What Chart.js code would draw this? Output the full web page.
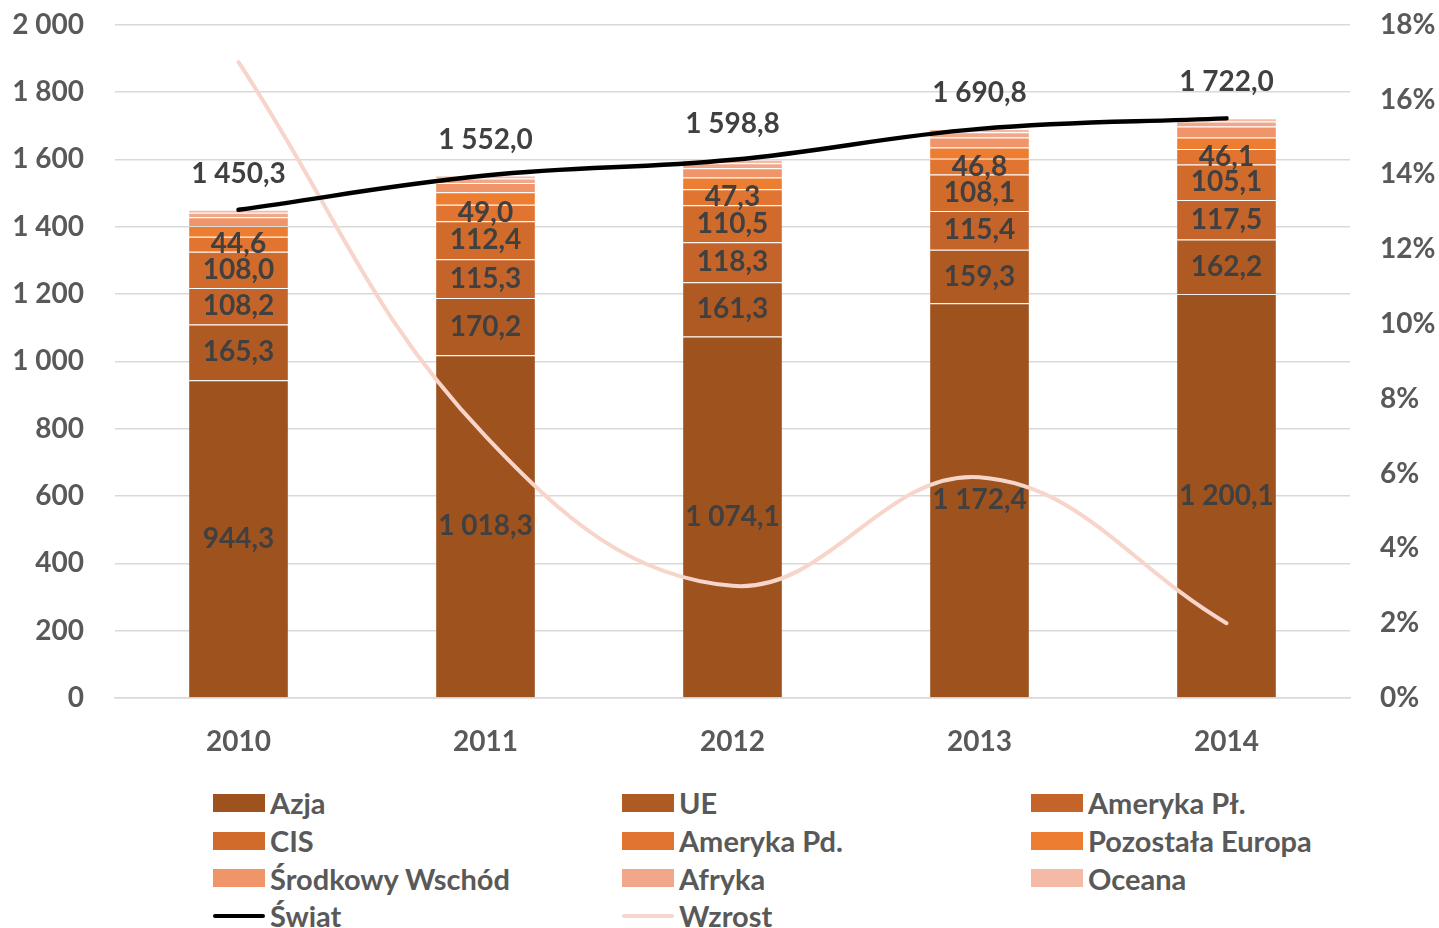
<!DOCTYPE html>
<html lang="pl">
<head>
<meta charset="utf-8">
<script src="https://cdn.jsdelivr.net/npm/chart.js@4.4.1/dist/chart.umd.min.js"></script>
<style>
  html, body { margin: 0; padding: 0; background: #fff; }
  body { width: 1439px; height: 928px; overflow: hidden; position: relative; font-family: Lato, "Open Sans", sans-serif; }
  #wrap { position: absolute; left: 0; top: -23px; width: 1439px; height: 793px; }
  #legenda { position: absolute; left: 213px; top: 784px; width: 1226px; display: grid;
    grid-template-columns: 409px 409px 408px; grid-auto-rows: 37.7px; }
  .item { display: flex; align-items: center; font-weight: 700; font-size: 29px; color: #595959; white-space: nowrap; }
  .box { width: 52px; height: 18px; margin-right: 5px; flex: none; }
  .linia { width: 52px; height: 4px; margin-right: 5px; border-radius: 2px; flex: none; }
</style>
</head>
<body>
<div id="wrap"><canvas id="wykres"></canvas></div>
<div id="legenda"></div>
<script>
const lata = ["2010", "2011", "2012", "2013", "2014"];

const azja = [944.3, 1018.3, 1074.1, 1172.4, 1200.1];
const ue = [165.3, 170.2, 161.3, 159.3, 162.2];
const amerykaPn = [108.2, 115.3, 118.3, 115.4, 117.5];
const cis = [108.0, 112.4, 110.5, 108.1, 105.1];
const amerykaPd = [44.6, 49.0, 47.3, 46.8, 46.1];
const pozostalaEuropa = [31.5, 37.0, 35.0, 33.5, 34.0];
const srodkowyWschod = [26.0, 27.8, 27.5, 29.5, 32.5];
const afryka = [13.5, 13.5, 15.0, 16.0, 15.0];
const oceana = [8.9, 8.5, 9.8, 9.8, 9.5];

const swiat = [1450.3, 1552.0, 1598.8, 1690.8, 1722.0];
const wzrost = [17.0, 7.0, 3.0, 5.9, 2.0];

const lewaOs = [0, 200, 400, 600, 800, 1000, 1200, 1400, 1600, 1800, 2000];
const prawaOs = [0, 2, 4, 6, 8, 10, 12, 14, 16, 18];

const szary = "#595959";
const ciemny = "#404040";
const czcionka = "Lato, 'Open Sans', sans-serif";

// format: 1 450,3
function liczba(v, miejsca) {
  const [c, d] = v.toFixed(miejsca).split(".");
  const calk = c.replace(/\B(?=(\d{3})+(?!\d))/g, " ");
  return d ? calk + "," + d : calk;
}

function slupek(nazwa, dane, kolor, etykiety) {
  return {
    type: "bar", label: nazwa, data: dane, backgroundColor: kolor,
    borderColor: "rgba(255,255,255,0.12)", borderWidth: { top: 1 }, borderSkipped: false,
    stack: "s", yAxisID: "y", order: 2, etykiety: etykiety
  };
}

const zestawy = [
  slupek("Azja", azja, "#9E521E", true),
  slupek("UE", ue, "#B05A23", true),
  slupek("Ameryka Pł.", amerykaPn, "#C4642A", true),
  slupek("CIS", cis, "#D06B2B", true),
  slupek("Ameryka Pd.", amerykaPd, "#E07430", true),
  slupek("Pozostała Europa", pozostalaEuropa, "#ED7D31", false),
  slupek("Środkowy Wschód", srodkowyWschod, "#F0956A", false),
  slupek("Afryka", afryka, "#F1A78A", false),
  slupek("Oceana", oceana, "#F4BAA5", false),
  {
    type: "line", label: "Świat", data: swiat, borderColor: "#000", borderWidth: 4.5,
    pointRadius: 0, tension: 0.4, yAxisID: "y", order: 0, borderCapStyle: "round", swiat: true
  },
  {
    type: "line", label: "Wzrost", data: wzrost, borderColor: "#F8D5CB", borderWidth: 4,
    pointRadius: 0, tension: 0.4, yAxisID: "y2", order: 1, borderCapStyle: "round"
  }
];

// etykiety danych na słupkach i nad linią Świat
const etykietyPlugin = {
  id: "etykiety",
  afterDraw(chart) {
    const ctx = chart.ctx;
    ctx.save();
    ctx.font = "700 28px " + czcionka;
    ctx.fillStyle = ciemny;
    ctx.textAlign = "center";
    ctx.textBaseline = "middle";
    chart.data.datasets.forEach((ds, i) => {
      const meta = chart.getDatasetMeta(i);
      if (ds.etykiety) {
        meta.data.forEach((el, j) => {
          ctx.fillText(liczba(ds.data[j], 1), el.x, (el.y + el.base) / 2);
        });
      }
      if (ds.swiat) {
        meta.data.forEach((el, j) => {
          ctx.fillText(liczba(ds.data[j], 1), el.x, el.y - 36);
        });
      }
    });
    ctx.restore();
  }
};

const tickFont = { family: czcionka, size: 28, weight: "700" };

new Chart(document.getElementById("wykres"), {
  data: { labels: lata, datasets: zestawy },
  options: {
    responsive: true,
    maintainAspectRatio: false,
    animation: false,
    layout: { padding: 0 },
    plugins: { legend: { display: false }, tooltip: { enabled: false } },
    datasets: { bar: { barPercentage: 0.4, categoryPercentage: 1 } },
    scales: {
      x: {
        stacked: true,
        grid: { display: false },
        border: { color: "#D9D9D9", width: 1.5 },
        ticks: { color: szary, font: tickFont, padding: 19 },
        afterFit(s) { s.height = 72; }
      },
      y: {
        stacked: true, min: 0, max: 2000,
        afterBuildTicks(s) { s.ticks = lewaOs.map(v => ({ value: v })); },
        grid: { color: "#D9D9D9", lineWidth: 1.5, drawTicks: false },
        border: { display: false },
        ticks: { color: szary, font: tickFont, padding: 31, callback: v => liczba(v, 0) },
        afterFit(s) { s.width = 115; }
      },
      y2: {
        position: "right", min: 0, max: 18,
        afterBuildTicks(s) { s.ticks = prawaOs.map(v => ({ value: v })); },
        grid: { display: false, drawTicks: false },
        border: { display: false },
        ticks: { color: szary, font: tickFont, padding: 30, callback: v => v + "%" },
        afterFit(s) { s.width = 89; }
      }
    }
  },
  plugins: [etykietyPlugin]
});

// legenda w trzech kolumnach
const legenda = document.getElementById("legenda");
zestawy.forEach(ds => {
  const el = document.createElement("div");
  el.className = "item";
  const znak = document.createElement("span");
  if (ds.type === "line") {
    znak.className = "linia";
    znak.style.background = ds.borderColor;
  } else {
    znak.className = "box";
    znak.style.background = ds.backgroundColor;
  }
  el.appendChild(znak);
  el.appendChild(document.createTextNode(ds.label));
  legenda.appendChild(el);
});
</script>
</body>
</html>
